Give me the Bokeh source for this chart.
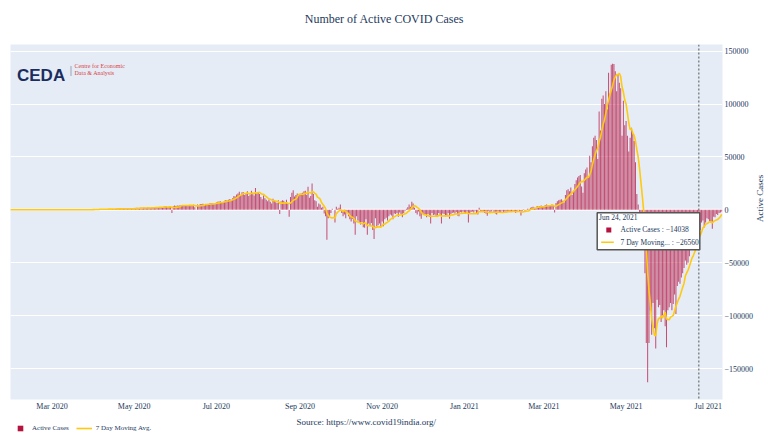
import math
import numpy as np
import pandas as pd
from bokeh.plotting import figure
from bokeh.layouts import column
from bokeh.models import (ColumnDataSource, FixedTicker, CustomJSTickFormatter, Span, Label,
                          BoxAnnotation, Legend, LegendItem, Range1d, LinearAxis)
from bokeh.embed import file_html
from bokeh.resources import INLINE

# ---------------- data: daily change in active cases (thousands) ----------------
jan20 = [0, 0]
feb20 = [0, 0, 0, 0, 0, 0, 0, 0, 0, 0, 0, 0, 0, 0, 0, 0, 0, 0, 0, 0,
         0, 0, 0, 0, 0, 0, 0, 0, 0]
mar20 = [0.0, 0.0, 0.002, 0.018, 0.001, 0.001, 0.003, 0.008, 0.010, 0.018,
         0.012, 0.012, 0.010, 0.019, 0.020, 0.012, 0.022, 0.030, 0.045, 0.050,
         0.068, 0.072, 0.080, 0.090, 0.085, 0.080, 0.120, 0.130, 0.100, 0.170,
         0.210]
apr20 = [0.40, 0.52, 0.48, 0.55, 0.50, 0.62, 0.42, 0.51, 0.49, 0.70,
         0.80, 0.68, 0.82, 0.79, 0.71, 0.83, 0.85, 0.92, 1.10, 1.08,
         0.81, 0.94, 0.90, 1.02, 1.20, 1.12, 0.93, 0.88, 1.10, 1.05]
may20 = [1.3, 1.6, 2.0, 1.5, 1.7, 1.9, 1.4, 1.9, 2.0, 1.6,
         2.1, 1.6, 1.8, 2.0, 2.3, 2.6, 2.2, 2.3, 2.4, 2.5,
         2.3, 2.6, 2.8, 3.3, 2.8, 2.4, 2.9, 3.1, -3.0, 3.4,
         4.0]
jun20 = [3.5, 4.0, 3.8, 4.2, 4.0, 4.5, 4.1, 3.6, 4.3, 3.9,
         4.6, 4.2, 4.6, 4.8, 2.5, 0.3, 5.0, 4.5, 5.5, 5.2,
         5.8, 4.3, 4.9, 5.3, 5.6, 6.0, 6.5, 6.0, 5.2, 5.8]
jul20 = [7.0, 7.5, 7.8, 8.2, 7.0, 6.5, 8.5, 9.2, 8.8, 9.5,
         10.2, 9.0, 10.8, 13.0, 12.5, 14.5, 15.5, 17.0, 13.5, 16.5,
         16.5, 14.0, 15.8, 17.5, 13.0, 14.5, 18.0, 16.0, 13.5, 20.5,
         15.5]
aug20 = [16.5, 15.0, 12.0, 10.0, 13.5, 11.0, 9.5, 8.0, 9.8, 7.5,
         6.0, 10.5, 8.5, 7.2, 6.5, 9.0, -4.0, 8.0, 9.0, 8.5,
         7.0, 9.5, 5.5, -6.6, 12.0, 16.0, 18.5, 12.5, 14.0, 15.5,
         13.0]
sep20 = [14.5, 15.5, 16.0, 17.5, 18.0, 14.0, 21.9, 11.5, 13.0, 24.8,
         15.0, 9.0, 8.0, 3.0, 6.0, 5.0, 2.0, 3.0, -3.5, -6.0,
         -28.3, -8.0, -6.0, -3.0, 1.0, 0.0, -12.0, 3.0, 1.0, 2.0]
oct20 = [5.0, -3.0, -6.0, -4.5, -8.0, -2.0, -6.0, -9.0, -11.0, -8.5,
         -13.0, -23.5, -6.0, -10.0, -12.0, -14.0, -11.5, -16.5, -17.0, -9.0,
         -23.5, -13.0, -15.0, -12.5, -19.0, -27.7, -8.0, -17.0, -14.5, -13.0,
         -16.0]
nov20 = [-11.0, -15.5, -9.0, -7.5, -10.0, -6.0, -4.5, -5.5, -9.0, -3.5,
         -4.0, -3.0, -6.5, -2.5, -4.0, -7.0, -3.0, -1.0, 1.0, 2.5,
         5.0, 3.0, 7.5, 6.0, 2.0, -3.0, -4.5, -1.5, -6.0, -8.5]
dec20 = [-3.5, -5.0, -4.5, -7.0, -4.0, -6.5, -12.9, -3.0, -5.0, -4.5,
         -6.0, -5.5, -3.0, -5.5, -12.9, -3.5, -4.0, -6.0, -5.0, -3.0,
         -8.5, -4.0, -3.0, -2.5, -3.5, -2.0, -5.5, -6.0, -2.0, -2.5,
         -1.5]
jan21 = [-2.5, -3.0, -1.5, -12.0, -3.5, -2.0, -1.5, -2.5, -1.0, -3.0,
         -4.5, 2.0, -1.0, -2.0, -1.5, -3.0, -3.5, -5.6, -1.0, -2.0,
         -1.5, -0.5, -2.0, -3.5, -4.5, -1.5, -3.0, -2.5, -1.0, -2.0,
         -1.5]
feb21 = [-2.5, -1.0, -1.5, -2.0, -1.5, -1.0, -2.0, -3.0, -1.5, -0.5,
         -1.5, -5.5, -1.0, 0.5, -1.0, -0.5, 1.0, 0.5, 2.0, 2.5,
         3.0, 2.0, 1.5, 3.5, 3.0, 3.5, 4.0, 2.5]
mar21 = [3.0, 4.5, 5.0, 3.5, 4.0, 4.5, 5.0, 3.5, -2.5, 6.5,
         8.0, 9.0, 9.5, 10.0, 8.5, 7.0, 14.0, 18.5, 19.5, 17.5,
         21.0, 14.0, 18.0, 24.5, 28.0, 30.5, 32.0, 33.0, 22.0, 16.0,
         34.5]
apr21 = [38, 40, 30, 51, 45, 60, 68, 70, 66, 48,
         93, 75, 105, 108, 100, 112, 95, 129.5, 110, 137,
         138, 137.7, 131, 112, 128, 120, 115, 70, 103, 80]
may21 = [84, 70, 55, 68, 77.6, 72, 65, 45, 15, 5,
         -5, -12, -18, -30, -60, -126, -163, -126, -95, -118,
         -88, -112, -131, -85, -92, -90, -106, -100, -95, -110,
         -130]
jun21 = [-95, -92, -88, -95, -89, -80, -98.5, -72, -68, -70,
         -64, -60, -55, -48, -52, -50, -44, -36, -33, -38,
         -24, -29.882, -11, -14.038, -19, -12, -10, -16.7, -12, -8]
jul21 = [-9, -11, -12, -18, -6.5, -7, -4, -5, -3, -2.5, -1.5]

month_starts = ["2020-01-30", "2020-02-01", "2020-03-01", "2020-04-01", "2020-05-01",
                "2020-06-01", "2020-07-01", "2020-08-01", "2020-09-01", "2020-10-01",
                "2020-11-01", "2020-12-01", "2021-01-01", "2021-02-01", "2021-03-01",
                "2021-04-01", "2021-05-01", "2021-06-01", "2021-07-01"]
month_values = [jan20, feb20, mar20, apr20, may20, jun20, jul20, aug20, sep20, oct20,
                nov20, dec20, jan21, feb21, mar21, apr21, may21, jun21, jul21]

x_tick_dates = ["2020-03-01", "2020-05-01", "2020-07-01", "2020-09-01", "2020-11-01",
                "2021-01-01", "2021-03-01", "2021-05-01", "2021-07-01"]
y_ticks = [-150000, -100000, -50000, 0, 50000, 100000, 150000]
hover_date = "2021-06-24"
series_names = ["Active Cases", "7 Day Moving Avg."]

dates, vals = [], []
for start, m in zip(month_starts, month_values):
    dates.extend(pd.date_range(start, periods=len(m), freq="D"))
    vals.extend(m)
active = np.round(np.array(vals, dtype=float) * 1000.0)
ma = pd.Series(active).rolling(7, min_periods=1).mean().values
src = ColumnDataSource(dict(date=pd.DatetimeIndex(dates), active=active, ma=ma))

NAVY = "#23395d"
BAR = "#B5123E"
GOLD = "#FFC90E"
SERIF = "Liberation Serif"
W = 772
FL, FR = 10, 726  # plot frame left / right on the page (shared by the column)
Y_LO, Y_HI = -179300, 156240

def ms(d):
    return pd.Timestamp(d).value // 10**6

def strip(h, y0, y1):
    f = figure(width=W, height=h, x_range=Range1d(FL, FR), y_range=Range1d(y1, y0),
               x_axis_location=None, y_axis_location=None, title=None,
               output_backend="svg", toolbar_location=None, outline_line_color=None,
               min_border_left=FL, min_border_right=W - FR, min_border_top=0,
               min_border_bottom=0, background_fill_color="white",
               border_fill_color="white")
    f.grid.visible = False
    return f

# ---------------- top strip: title ----------------
top = strip(44, 0, 44)
top.add_layout(Label(x=386, y=18, text="Number of Active COVID Cases", text_font=SERIF,
                     text_font_size="12px", text_color=NAVY, text_align="center",
                     text_baseline="middle"))

# ---------------- main plot ----------------
p = figure(width=W, height=370, x_axis_type="datetime", y_axis_location="right",
           x_range=Range1d(pd.Timestamp("2020-01-30 05:31"), pd.Timestamp("2021-07-11 13:12")),
           y_range=Range1d(Y_LO, Y_HI), title=None,
           output_backend="svg", toolbar_location=None,
           min_border_left=FL, min_border_right=W - FR, min_border_top=0, min_border_bottom=15,
           background_fill_color="#E5ECF6", border_fill_color="white", outline_line_color=None)

p.xgrid.visible = False
p.ygrid.grid_line_color = "white"
p.ygrid.grid_line_width = 1
p.ygrid.ticker = FixedTicker(ticks=y_ticks)
p.add_layout(Span(location=0, dimension="width", line_color="white", line_width=2, level="underlay"))

bars = p.vbar(x="date", top="active", bottom=0, width=0.75 * 86400000, source=src,
              fill_color=BAR, fill_alpha=0.72, line_color=None)
line = p.line(x="date", y="ma", source=src, line_color=GOLD, line_width=1.6)

p.xaxis.ticker = FixedTicker(ticks=[ms(d) for d in x_tick_dates])
p.xaxis.formatter = CustomJSTickFormatter(code="""
const m = ['Jan','Feb','Mar','Apr','May','Jun','Jul','Aug','Sep','Oct','Nov','Dec'];
const d = new Date(tick);
return m[d.getUTCMonth()] + ' ' + d.getUTCFullYear();
""")
p.yaxis.ticker = FixedTicker(ticks=y_ticks)
p.yaxis.formatter = CustomJSTickFormatter(
    code="return tick < 0 ? '\u2212' + Math.abs(tick).toString() : tick.toString();")
for ax in (p.xaxis[0], p.yaxis[0]):
    ax.axis_line_color = None
    ax.major_tick_line_color = None
    ax.minor_tick_line_color = None
    ax.major_tick_out = 0
    ax.major_tick_in = 0
    ax.major_label_standoff = 2
    ax.major_label_text_font = SERIF
    ax.major_label_text_font_size = "8px"
    ax.major_label_text_color = NAVY

# axis title on its own (tick-less) right axis, reading bottom to top
title_axis = LinearAxis(ticker=FixedTicker(ticks=[]), axis_label="Active Cases",
                        axis_line_color=None, major_tick_line_color=None,
                        minor_tick_line_color=None, major_tick_out=0, major_tick_in=0,
                        axis_label_standoff=3, axis_label_text_font=SERIF,
                        axis_label_text_font_size="9px", axis_label_text_font_style="normal",
                        axis_label_text_color=NAVY, bounds=(Y_LO, 113700))
if "axis_label_orientation" in title_axis.properties():
    title_axis.axis_label_orientation = math.pi / 2
p.add_layout(title_axis, "right")

# hover spike line
p.add_layout(Span(location=ms(hover_date), dimension="height", line_color="#555555",
                  line_dash="2 2", line_width=1))

FY = 399  # frame bottom on the page

def text(x, y, t, size, color=NAVY, font=SERIF, align="left", baseline="middle",
         style="normal", angle=0):
    p.add_layout(Label(x=x - FL, y=FY - y, x_units="screen", y_units="screen", text=t,
                       text_font=font, text_font_size=f"{size}px", text_color=color,
                       text_align=align, text_baseline=baseline, text_font_style=style,
                       angle=angle, angle_units="deg"))

def box(l, t, r, b, fill, line=None, lw=1):
    p.add_layout(BoxAnnotation(left=l - FL, right=r - FL, top=FY - t, bottom=FY - b,
                               left_units="screen", right_units="screen",
                               top_units="screen", bottom_units="screen",
                               fill_color=fill, fill_alpha=1, line_color=line,
                               line_width=lw, line_alpha=1 if line else 0))

# logo
text(16.5, 74.5, "CEDA", 17, color="#1b2c5e", font="Liberation Sans", style="bold",
     baseline="alphabetic")
text(70.5, 69.5, "|", 11, color="#9aa3b5", font="Liberation Sans", align="center")
text(74, 65, "Centre for Economic", 6, color="#d94545")
text(74, 72.3, "Data & Analysis", 6, color="#d94545")

# hover tooltip
i_h = list(pd.DatetimeIndex(dates)).index(pd.Timestamp(hover_date))
def fmt(v):
    v = int(round(v))
    return ("\u2212" + str(-v)) if v < 0 else str(v)
box(596.7, 212.3, 699.3, 249.3, "white", line="#555555", lw=1.5)
text(598.5, 216.8, pd.Timestamp(hover_date).strftime("%b %d, %Y"), 7.5)
box(605.8, 227, 610.8, 232, BAR)
text(620, 229.4, series_names[0] + " : " + fmt(active[i_h]), 7.5)
box(600.7, 241, 613.3, 242.5, GOLD)
text(620, 241.8, "7 Day Moving... : " + fmt(ma[i_h]), 7.5)

# ---------------- bottom strip: legend + source ----------------
BT = 44 + 370
bot = strip(446 - BT, BT, 446)
bot.add_layout(Label(x=297.7, y=421, text="Source: https://www.covid19india.org/",
                     text_font=SERIF, text_font_size="9px", text_color=NAVY,
                     text_align="left", text_baseline="middle"))
key_sq = bot.scatter(x=[np.nan], y=[np.nan], marker="square", size=6,
                     fill_color=BAR, line_color=None)
key_ln = bot.line(x=[np.nan, np.nan], y=[np.nan, np.nan], line_color=GOLD, line_width=1.6)
bot.add_layout(Legend(items=[LegendItem(label=series_names[0], renderers=[key_sq]),
                             LegendItem(label=series_names[1], renderers=[key_ln])],
                      location=(12 - FL, 446 - 434.5), orientation="horizontal",
                      glyph_width=16, glyph_height=14, label_standoff=4, spacing=7,
                      padding=0, margin=0, label_height=8,
                      label_text_font=SERIF, label_text_font_size="7px",
                      label_text_color=NAVY, border_line_color=None,
                      background_fill_alpha=0))

layout = column(top, p, bot, spacing=0)
open("out.html", "w").write(file_html(layout, INLINE))
